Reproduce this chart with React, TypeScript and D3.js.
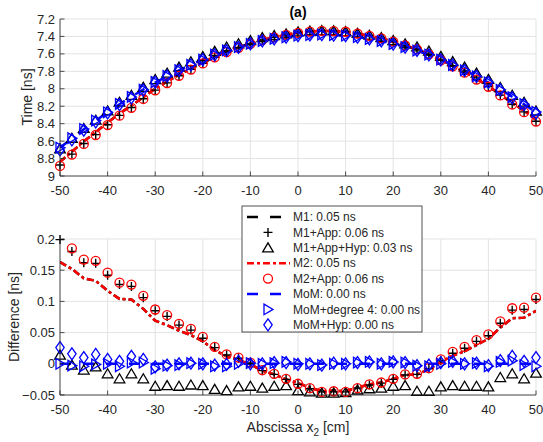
import React from "react";
import * as d3 from "d3";

// abscissa x2 in cm
const abscissa = [
  -50, -47.5, -45, -42.5, -40, -37.5, -35, -32.5, -30, -27.5, -25, -22.5, -20, -17.5, -15, -12.5, -10, -7.5, -5, -2.5,
  0, 2.5, 5, 7.5, 10, 12.5, 15, 17.5, 20, 22.5, 25, 27.5, 30, 32.5, 35, 37.5, 40, 42.5, 45, 47.5, 50,
];

// reference travel time (MoM) in ns
const timeMoM = [
  8.675, 8.569, 8.465, 8.365, 8.27, 8.178, 8.091, 8.008, 7.93, 7.856, 7.788, 7.724, 7.666, 7.612, 7.564, 7.521, 7.484,
  7.452, 7.426, 7.406, 7.391, 7.383, 7.38, 7.383, 7.391, 7.406, 7.426, 7.452, 7.484, 7.521, 7.564, 7.612, 7.666, 7.724,
  7.788, 7.856, 7.93, 8.008, 8.091, 8.178, 8.27,
];

// differences to the reference, ns
const diffM1 = [
  0.163, 0.152, 0.137, 0.133, 0.117, 0.104, 0.103, 0.088, 0.069, 0.062, 0.053, 0.046, 0.036, 0.022, 0.012, 0.006, -0.001,
  -0.011, -0.017, -0.025, -0.031, -0.038, -0.044, -0.043, -0.044, -0.038, -0.033, -0.03, -0.024, -0.018, -0.017, -0.009,
  0.003, 0.013, 0.02, 0.03, 0.04, 0.058, 0.073, 0.074, 0.085,
];
const diffM1App = [
  0.199, 0.18, 0.162, 0.161, 0.142, 0.127, 0.124, 0.106, 0.085, 0.076, 0.062, 0.054, 0.041, 0.026, 0.014, 0.009, 0.001,
  -0.011, -0.017, -0.025, -0.033, -0.04, -0.045, -0.045, -0.045, -0.039, -0.034, -0.031, -0.025, -0.018, -0.017, -0.008,
  0.005, 0.017, 0.025, 0.036, 0.045, 0.065, 0.086, 0.087, 0.103,
];
const diffM1AppHyp = [
  0.014, -0.002, -0.01, -0.005, -0.016, -0.024, -0.016, -0.024, -0.036, -0.035, -0.036, -0.034, -0.035, -0.041, -0.043,
  -0.037, -0.036, -0.039, -0.036, -0.035, -0.043, -0.045, -0.047, -0.047, -0.046, -0.042, -0.04, -0.039, -0.036, -0.035,
  -0.044, -0.044, -0.037, -0.035, -0.036, -0.036, -0.037, -0.022, -0.016, -0.024, -0.015,
];
const diffM2 = [
  0.163, 0.152, 0.137, 0.133, 0.117, 0.104, 0.103, 0.088, 0.069, 0.062, 0.053, 0.046, 0.036, 0.022, 0.012, 0.006, -0.001,
  -0.011, -0.017, -0.025, -0.031, -0.038, -0.044, -0.043, -0.044, -0.038, -0.033, -0.03, -0.024, -0.018, -0.017, -0.009,
  0.003, 0.013, 0.02, 0.03, 0.04, 0.058, 0.073, 0.074, 0.085,
];
const diffM2App = [
  0.21, 0.185, 0.167, 0.165, 0.146, 0.13, 0.127, 0.109, 0.087, 0.078, 0.064, 0.056, 0.043, 0.027, 0.015, 0.01, 0.002,
  -0.01, -0.016, -0.024, -0.032, -0.039, -0.045, -0.044, -0.045, -0.039, -0.033, -0.03, -0.024, -0.017, -0.016, -0.007,
  0.007, 0.019, 0.027, 0.038, 0.047, 0.068, 0.089, 0.09, 0.106,
];
const diffMoM = [
  0, 0, 0, 0, 0, 0, 0, 0, 0, 0, 0, 0, 0, 0, 0, 0, 0, 0, 0, 0, 0, 0, 0, 0, 0, 0, 0, 0, 0, 0, 0, 0, 0, 0, 0, 0, 0, 0, 0,
  0, 0,
];
const diffMoMDeg4 = [
  0, -0.003, -0.004, -0.001, 0, -0.004, 0.002, 0.002, -0.008, -0.003, -0.002, 0.001, 0, -0.004, -0.004, 0, 0.001, 0,
  0.001, 0.003, 0, 0, -0.002, 0, 0, 0.002, 0.003, 0, 0.003, 0.002, -0.003, -0.004, 0, 0.003, 0, 0.001, -0.004, 0.003,
  0.005, -0.002, -0.004,
];
const diffMoMHyp = [
  0.026, 0.016, 0.01, 0.015, 0.007, 0.004, 0.012, 0.007, -0.005, -0.002, 0, 0.001, 0, -0.002, -0.001, 0.004, 0, 0, 0.002,
  0.002, -0.001, 0, -0.002, 0.001, 0, 0.002, 0.003, 0, 0.003, 0.002, -0.003, -0.002, 0.002, 0.004, 0, 0.001, -0.003,
  0.005, 0.012, 0.004, 0.01,
];

const seriesNames = [
  "M1: 0.05 ns",
  "M1+App: 0.06 ns",
  "M1+App+Hyp: 0.03 ns",
  "M2: 0.05 ns",
  "M2+App: 0.06 ns",
  "MoM: 0.00 ns",
  "MoM+degree 4: 0.00 ns",
  "MoM+Hyp: 0.00 ns",
];

const xTicks = [-50, -40, -30, -20, -10, 0, 10, 20, 30, 40, 50];
const timeTicks = [7.2, 7.4, 7.6, 7.8, 8, 8.2, 8.4, 8.6, 8.8, 9];
const diffTicks = [-0.05, 0, 0.05, 0.1, 0.15, 0.2];

const BLACK = "#000000";
const RED = "#ff0000";
const BLUE = "#0000ff";
const AXIS = "#262626";
const GRID = "#e3e3e3";

const series = [
  { name: seriesNames[0], diff: diffM1, color: BLACK, dash: "7,3,3,3", marker: null },
  { name: seriesNames[1], diff: diffM1App, color: BLACK, dash: null, marker: "plus" },
  { name: seriesNames[2], diff: diffM1AppHyp, color: BLACK, dash: null, marker: "tri" },
  { name: seriesNames[3], diff: diffM2, color: RED, dash: "7,3,3,3", marker: null },
  { name: seriesNames[4], diff: diffM2App, color: RED, dash: null, marker: "circle" },
  { name: seriesNames[5], diff: diffMoM, color: BLUE, dash: "11,12", marker: null },
  { name: seriesNames[6], diff: diffMoMDeg4, color: BLUE, dash: null, marker: "right" },
  { name: seriesNames[7], diff: diffMoMHyp, color: BLUE, dash: null, marker: "diamond" },
];
// legend shows M1 as a plain dashed line
const legendDash = ["11,12", null, null, "7,3,3,3", null, "11,12", null, null];

const FONT = "'Liberation Sans', Arial, Helvetica, sans-serif";
const W = 543;
const H = 442;
const left = 60;
const right = 536;

function Marker({ type, x, y, color }) {
  const t = `translate(${x},${y})`;
  const common = { fill: "none", stroke: color, strokeWidth: 1.3, transform: t };
  if (type === "plus") return <path d="M-4.5,0H4.5M0,-4.5V4.5" {...common} strokeWidth={1.4} />;
  if (type === "tri") return <path d="M0,-5L5.3,4L-5.3,4Z" {...common} />;
  if (type === "circle") return <circle r={4.5} {...common} />;
  if (type === "right") return <path d="M-4,-5.3L5,0L-4,5.3Z" {...common} />;
  if (type === "diamond") return <path d="M0,-6L4.2,0L0,6L-4.2,0Z" {...common} />;
  return null;
}

function Panel({ id, top, bottom, domain, ticks, values, tickFormat }) {
  const x = d3.scaleLinear().domain([-50, 50]).range([left, right]);
  const y = d3.scaleLinear().domain(domain).range([top, bottom]);
  const [y0, y1] = [Math.min(...domain), Math.max(...domain)];
  return (
    <g>
      <defs>
        <clipPath id={id}>
          <rect x={left} y={top} width={right - left} height={bottom - top} />
        </clipPath>
      </defs>
      {xTicks.map((t) => (
        <line key={"gx" + t} x1={x(t)} x2={x(t)} y1={top} y2={bottom} stroke={GRID} strokeWidth={1} />
      ))}
      {ticks.map((t) => (
        <line key={"gy" + t} x1={left} x2={right} y1={y(t)} y2={y(t)} stroke={GRID} strokeWidth={1} />
      ))}
      <g clipPath={`url(#${id})`}>
        {series.map((s, i) => {
          if (!s.dash) return null;
          const line = d3
            .line<number>()
            .x((_, j) => x(abscissa[j]))
            .y((v) => y(v));
          return (
            <path
              key={"l" + i}
              d={line(values(s)) || ""}
              fill="none"
              stroke={s.color}
              strokeWidth={2.5}
              strokeDasharray={s.dash}
            />
          );
        })}
      </g>
      {series.map((s, i) =>
        s.marker
          ? values(s).map((v, j) =>
              v >= y0 && v <= y1 ? (
                <Marker key={`m${i}-${j}`} type={s.marker} x={x(abscissa[j])} y={y(v)} color={s.color} />
              ) : null
            )
          : null
      )}
      <line x1={left} x2={left} y1={top} y2={bottom} stroke={AXIS} strokeWidth={0.8} />
      <line x1={left} x2={right} y1={bottom} y2={bottom} stroke={AXIS} strokeWidth={0.8} />
      {xTicks.map((t) => (
        <g key={"tx" + t}>
          <line x1={x(t)} x2={x(t)} y1={bottom} y2={bottom - 4.5} stroke={AXIS} strokeWidth={0.8} />
          <text x={x(t)} y={bottom + 19} textAnchor="middle" fontSize={13} fill={AXIS} fontFamily={FONT}>
            {t}
          </text>
        </g>
      ))}
      {ticks.map((t) => (
        <g key={"ty" + t}>
          <line x1={left} x2={left + 4.5} y1={y(t)} y2={y(t)} stroke={AXIS} strokeWidth={0.8} />
          <text
            x={left - 5}
            y={y(t)}
            dy="0.35em"
            textAnchor="end"
            fontSize={13}
            fill={AXIS}
            fontFamily={FONT}
          >
            {tickFormat(t)}
          </text>
        </g>
      ))}
    </g>
  );
}

function Legend() {
  const x0 = 242;
  const y0 = 206;
  const rowH = 15.4;
  return (
    <g>
      <rect x={x0} y={y0} width={180} height={126} fill="#ffffff" stroke={AXIS} strokeWidth={0.8} />
      {series.map((s, i) => {
        const cy = y0 + 11 + i * rowH;
        return (
          <g key={"lg" + i}>
            {legendDash[i] ? (
              <line
                x1={247}
                x2={290}
                y1={cy}
                y2={cy}
                stroke={s.color}
                strokeWidth={2.5}
                strokeDasharray={legendDash[i]}
              />
            ) : null}
            {s.marker ? <Marker type={s.marker} x={268} y={cy} color={s.color} /> : null}
            <text x={293} y={cy} dy="0.35em" fontSize={12} fill={AXIS} fontFamily={FONT}>
              {s.name}
            </text>
          </g>
        );
      })}
    </g>
  );
}

export default function App() {
  const timeOf = (s) => s.diff.map((d, j) => timeMoM[j] + d);
  const diffOf = (s) => s.diff;
  return (
    <svg width={W} height={H} style={{ position: "absolute", left: 0, top: 0, background: "#ffffff" }}>
      <rect width={W} height={H} fill="#ffffff" />
      <Panel
        id="clipTop"
        top={19}
        bottom={176}
        domain={[7.2, 9]}
        ticks={timeTicks}
        values={timeOf}
        tickFormat={(t) => d3.format("~g")(t)}
      />
      <Panel
        id="clipBottom"
        top={239}
        bottom={395}
        domain={[0.2, -0.05]}
        ticks={diffTicks}
        values={diffOf}
        tickFormat={(t) => d3.format("~g")(t)}
      />
      <text x={298} y={17} textAnchor="middle" fontSize={14} fontWeight="bold" fill={BLACK} fontFamily={FONT}>
        (a)
      </text>
      <text
        transform="translate(32,97) rotate(-90)"
        textAnchor="middle"
        fontSize={14}
        fill={AXIS}
        fontFamily={FONT}
      >
        Time [ns]
      </text>
      <text
        transform="translate(19,317) rotate(-90)"
        textAnchor="middle"
        fontSize={14}
        fill={AXIS}
        fontFamily={FONT}
      >
        Difference [ns]
      </text>
      <text x={298} y={432} textAnchor="middle" fontSize={14} fill={AXIS} fontFamily={FONT}>
        Abscissa x
        <tspan dy={4} fontSize={10}>
          2
        </tspan>
        <tspan dy={-4}> [cm]</tspan>
      </text>
      <Legend />
    </svg>
  );
}
